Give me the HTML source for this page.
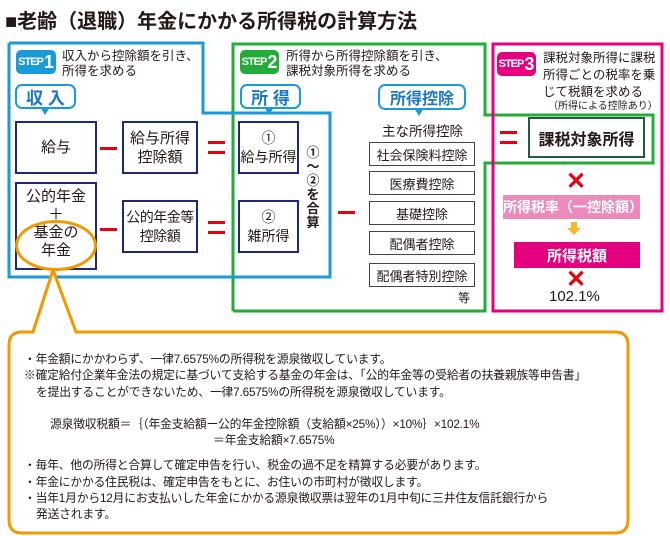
<!DOCTYPE html>
<html><head><meta charset="utf-8"><style>
body{margin:0;width:670px;height:536px;background:#fff;position:relative;overflow:hidden;font-family:"Liberation Sans","Noto Sans CJK JP",sans-serif;color:#231815}
.a{position:absolute}
.bx{position:absolute;border:2px solid #1d2a7a;box-sizing:border-box;display:flex;align-items:center;justify-content:center;text-align:center;font-size:15px;line-height:19px;background:#fff;white-space:nowrap}
.db{position:absolute;border:1.5px solid #444;box-sizing:border-box;display:flex;align-items:center;justify-content:center;font-size:13px;background:#fff}
.badge{position:absolute;color:#fff;border-radius:5px;font-size:11px;display:flex;align-items:center;justify-content:center;font-weight:bold;letter-spacing:-1px;white-space:nowrap;overflow:hidden}
.badge b{font-size:18px;margin-left:1px;letter-spacing:0}
.st{position:absolute;font-size:12.5px;line-height:15px}
.bub{position:absolute;border:2px solid #1a9ad6;border-radius:7px;color:#1a78c2;font-weight:bold;font-size:17px;display:flex;align-items:center;justify-content:center;background:#fff;box-sizing:border-box}
.minus{position:absolute;height:3px;width:17px;background:#e60012}
.eq{position:absolute;width:17px;height:13px;border-top:3px solid #e60012;border-bottom:3px solid #e60012;box-sizing:border-box}
.x{position:absolute;color:#e60012;font-size:24px;font-weight:bold;line-height:24px}
.o{position:absolute;font-size:11.8px;line-height:16px;white-space:nowrap;letter-spacing:-0.2px}
</style></head><body>
<div class="a" style="left:5px;top:5px;font-size:20px;font-weight:bold;">■老齢（退職）年金にかかる所得税の計算方法</div>

<svg class="a" style="left:0;top:0" width="670" height="536">
<polyline points="233,311 233,44 485,44 485,115 653,115 653,163 485,163 485,311 233,311" fill="none" stroke="#22ac38" stroke-width="3"/>
<polyline points="9,43 203,43 203,113 330,113 330,277 9,277 9,43" fill="none" stroke="#1a9ad6" stroke-width="3"/>
<rect x="493" y="44" width="169" height="267" fill="none" stroke="#e4007f" stroke-width="3"/>
<path d="M53,270 L33,332 L22,332 Q9,332 9,345 L9,520 Q9,533 22,533 L615,533 Q628,533 628,520 L628,345 Q628,332 615,332 L76,332 Z" fill="#fff" stroke="#f39800" stroke-width="3"/>
</svg>

<div class="badge" style="left:16px;top:50px;width:40px;height:24px;background:#1a9ad6">STEP<b>1</b></div>
<div class="st" style="left:62px;top:49px">収入から控除額を引き、<br>所得を求める</div>
<div class="bub" style="left:15px;top:84px;width:61px;height:25px">収 入</div>
<div class="a" style="left:40px;top:107px;width:0;height:0;border-left:5px solid transparent;border-right:5px solid transparent;border-top:8px solid #1a9ad6"></div>

<div class="bx" style="left:15px;top:121px;width:82px;height:53px">給与</div>
<div class="bx" style="left:122px;top:121px;width:76px;height:53px">給与所得<br>控除額</div>
<div class="bx" style="left:15px;top:182px;width:82px;height:88px;align-items:flex-start;padding-top:4px;line-height:18px">公的年金<br>＋<br>基金の<br>年金</div>
<div class="a" style="left:15px;top:220px;width:76px;height:45px;border:3px solid #f39800;border-radius:50%"></div>
<div class="bx" style="left:122px;top:200px;width:76px;height:53px;font-size:14px;letter-spacing:-0.5px">公的年金等<br>控除額</div>
<div class="minus" style="left:100px;top:147px"></div>
<div class="minus" style="left:100px;top:228px"></div>
<div class="eq" style="left:208px;top:141px"></div>
<div class="eq" style="left:208px;top:221px"></div>

<div class="badge" style="left:240px;top:50px;width:39px;height:24px;background:#22ac38">STEP<b>2</b></div>
<div class="st" style="left:286px;top:49px">所得から所得控除額を引き、<br>課税対象所得を求める</div>
<div class="bub" style="left:240px;top:84px;width:61px;height:25px">所 得</div>
<div class="a" style="left:264px;top:107px;width:0;height:0;border-left:5px solid transparent;border-right:5px solid transparent;border-top:8px solid #1a9ad6"></div>
<div class="bx" style="left:238px;top:121px;width:61px;height:53px;font-size:14px">①<br>給与所得</div>
<div class="bx" style="left:238px;top:200px;width:61px;height:53px;font-size:14px">②<br>雑所得</div>
<div class="a" style="left:305px;top:146px;width:16px;font-size:13px;font-weight:bold;line-height:14px;text-align:center">①<br>〜<br>②<br>を<br>合<br>算</div>
<div class="minus" style="left:338px;top:211px"></div>

<div class="bub" style="left:378px;top:84px;width:88px;height:26px;font-size:16px">所得控除</div>
<div class="a" style="left:414px;top:108px;width:0;height:0;border-left:5px solid transparent;border-right:5px solid transparent;border-top:8px solid #1a9ad6"></div>
<div class="a" style="left:382px;top:120px;font-size:13.5px">主な所得控除</div>
<div class="db" style="left:369px;top:142px;width:106px;height:24px">社会保険料控除</div>
<div class="db" style="left:369px;top:171px;width:106px;height:24px">医療費控除</div>
<div class="db" style="left:369px;top:201px;width:106px;height:24px">基礎控除</div>
<div class="db" style="left:369px;top:231px;width:106px;height:24px">配偶者控除</div>
<div class="db" style="left:369px;top:263px;width:106px;height:24px">配偶者特別控除</div>
<div class="a" style="left:458px;top:289px;font-size:12px">等</div>

<div class="badge" style="left:497px;top:52px;width:39px;height:24px;background:#e4007f">STEP<b>3</b></div>
<div class="st" style="left:543px;top:50px;font-size:12.5px;line-height:17px">課税対象所得に課税<br>所得ごとの税率を乗<br>じて税額を求める</div>
<div class="a" style="left:548px;top:97px;font-size:10px">（所得による控除あり）</div>
<div class="eq" style="left:500px;top:131px"></div>
<div class="a" style="left:528px;top:117px;width:117px;height:41px;border:2px solid #1f5f3a;box-sizing:border-box;display:flex;align-items:center;justify-content:center;font-size:16px;font-weight:bold">課税対象所得</div>
<div class="x" style="left:566px;top:170px">✕</div>
<div class="a" style="left:503px;top:195px;width:137px;height:24px;background:#ec8ab9;color:#fff;font-size:14px;font-weight:bold;display:flex;align-items:center;justify-content:center">所得税率（一控除額）</div>
<div class="a" style="left:571px;top:222px;width:6px;height:6px;background:#f8b62d"></div>
<div class="a" style="left:567px;top:228px;width:0;height:0;border-left:7px solid transparent;border-right:7px solid transparent;border-top:7px solid #f8b62d"></div>
<div class="a" style="left:514px;top:242px;width:126px;height:26px;background:#e4007f;color:#fff;font-size:15px;font-weight:bold;display:flex;align-items:center;justify-content:center">所得税額</div>
<div class="x" style="left:566px;top:268px">✕</div>
<div class="a" style="left:549px;top:288px;font-size:15px">102.1%</div>

<div class="o" style="left:24px;top:351px">・年金額にかかわらず、一律7.6575%の所得税を源泉徴収しています。</div>
<div class="o" style="left:24px;top:367px">※確定給付企業年金法の規定に基づいて支給する基金の年金は、「公的年金等の受給者の扶養親族等申告書」</div>
<div class="o" style="left:36px;top:384px">を提出することができないため、一律7.6575%の所得税を源泉徴収しています。</div>
<div class="o" style="left:50px;top:416px">源泉徴収税額＝｛（年金支給額ー公的年金控除額（支給額×25%））×10%｝×102.1%</div>
<div class="o" style="left:213px;top:432px">＝年金支給額×7.6575%</div>
<div class="o" style="left:24px;top:457px">・毎年、他の所得と合算して確定申告を行い、税金の過不足を精算する必要があります。</div>
<div class="o" style="left:24px;top:474px">・年金にかかる住民税は、確定申告をもとに、お住いの市町村が徴収します。</div>
<div class="o" style="left:24px;top:490px">・当年1月から12月にお支払いした年金にかかる源泉徴収票は翌年の1月中旬に三井住友信託銀行から</div>
<div class="o" style="left:36px;top:506px">発送されます。</div>
</body></html>
